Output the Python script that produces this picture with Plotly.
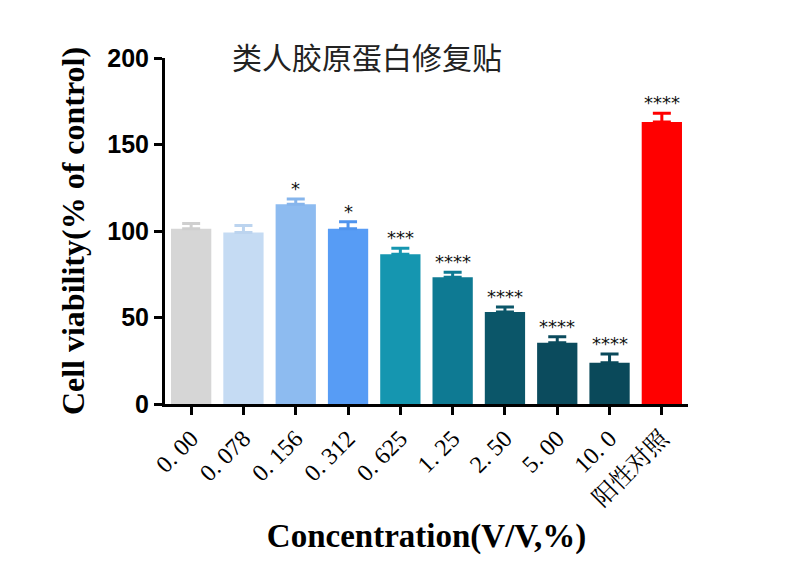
import plotly.graph_objects as go

categories = ["0. 00", "0. 078", "0. 156", "0. 312", "0. 625", "1. 25", "2. 50", "5. 00", "10. 0", "阳性对照"]
values = [101.3, 99.2, 115.4, 101.3, 86.5, 73.2, 53.2, 35.4, 23.9, 163.0]
errors = [3.1, 4.0, 3.1, 4.1, 3.5, 2.9, 2.9, 3.5, 5.0, 5.0]
stars = ["", "", "*", "*", "***", "****", "****", "****", "****", "****"]
colors = ["#d6d6d6", "#c5dbf3", "#8dbbf0", "#579cf5", "#1596b0", "#0e7a93", "#0b5669", "#0b4b5d", "#0a495a", "#ff0000"]
err_colors = ["#cfcfcf", "#bcd4ef", "#86b5ec", "#4f94ee", "#1596b0", "#0e7a93", "#0b5669", "#0b4b5d", "#0a495a", "#ff0000"]
yticks = [0, 50, 100, 150, 200]

fig = go.Figure()
for i, (v, e, c, ec) in enumerate(zip(values, errors, colors, err_colors)):
    fig.add_trace(go.Bar(
        x=[i], y=[v], width=0.77, marker=dict(color=c, line=dict(width=0)),
        error_y=dict(type="data", symmetric=False, array=[e], arrayminus=[0],
                     color=ec, thickness=3, width=9),
        showlegend=False, hoverinfo="skip"))

for i, (v, e, s) in enumerate(zip(values, errors, stars)):
    if s:
        fig.add_annotation(x=i, y=v + e, text=s, showarrow=False, yanchor="bottom",
                           yshift=-2, font=dict(family="DejaVu Sans", size=18, color="#111"))

fig.update_layout(
    width=800, height=582,
    margin=dict(l=165, r=112, t=58, b=178),
    paper_bgcolor="white", plot_bgcolor="white",
    barmode="overlay",
    title=dict(text="类人胶原蛋白修复贴", x=367 / 800, xanchor="center", y=1 - 58 / 582, yanchor="middle",
               font=dict(family="Noto Sans CJK SC", size=30, color="#222")),
    xaxis=dict(range=[-0.5, 9.5], tickvals=list(range(len(categories))), ticktext=categories,
               tickangle=-45, ticks="outside", ticklen=8, tickwidth=3, tickcolor="black",
               showline=True, linewidth=3, linecolor="black", showgrid=False, zeroline=False,
               tickfont=dict(family="Liberation Serif, Noto Serif CJK SC, Noto Sans CJK SC", size=24, color="black"),
               title=dict(text="Concentration(V/V,%)", standoff=14,
                          font=dict(family="Liberation Serif", size=33, color="black", weight="bold"))),
    yaxis=dict(range=[0, 200], tickvals=yticks, ticks="outside", ticklen=8, tickwidth=3, tickcolor="black",
               showline=True, linewidth=3, linecolor="black", showgrid=False, zeroline=False,
               tickfont=dict(family="Liberation Sans", size=25, color="black", weight="bold"),
               title=dict(text="Cell viability(% of control)", standoff=14,
                          font=dict(family="Liberation Serif", size=32, color="black", weight="bold"))),
)

fig.write_html("out.html")
